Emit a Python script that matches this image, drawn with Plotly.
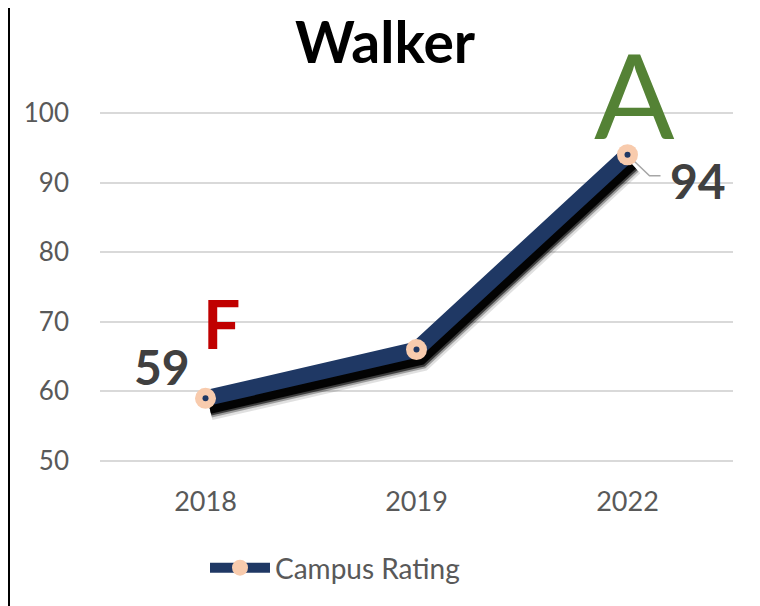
import plotly.graph_objects as go

years = ["2018", "2019", "2022"]
ratings = [59, 66, 94]
grade_first = "F"
grade_last = "A"
series_name = "Campus Rating"
title_text = "Walker"

OFF = 8  # page body margin
W, H = 760 - OFF, 606 - OFF

# desired screen geometry
x_left, x_right = 100, 733
y_top_val, y_bot_val = 113, 461  # screen y of 100 and 50

xr = [-0.5, len(years) - 0.5]
ypad = 0.15
yr = [50 - ypad, 100 + ypad]
px_per_y = (y_bot_val - y_top_val) / 50
L = x_left - OFF
R = W - (x_right - OFF)
T = round(y_top_val - OFF - ypad * px_per_y)
B = round(H - (y_bot_val - OFF + ypad * px_per_y))
pw, ph = W - L - R, H - T - B
px_per_x = pw / (xr[1] - xr[0])

xs = list(range(len(years)))
navy = "#1f3864"
peach = "#f8cbad"
font = "Lato"

fig = go.Figure()

# base axes: invisible carrier for ticks and grid
fig.add_trace(go.Scatter(x=xs, y=ratings, mode="lines", opacity=0, showlegend=False,
                         hoverinfo="skip"))

# soft shadow on offset overlay axes
sdx, sdy = 4, 9
for wdt, op in [(26, 0.12), (21, 0.3), (17, 0.6), (13, 0.95)]:
    fig.add_trace(go.Scatter(x=xs, y=ratings, mode="lines", xaxis="x2", yaxis="y2",
                             line=dict(color=f"rgba(0,0,0,{op})", width=wdt),
                             showlegend=False, hoverinfo="skip"))

# main series on top overlay axes
fig.add_trace(go.Scatter(
    x=xs, y=ratings, mode="lines+markers", name=series_name, xaxis="x3", yaxis="y3",
    line=dict(color=navy, width=16),
    marker=dict(size=21, color=peach, line=dict(width=0)),
))
fig.add_trace(go.Scatter(
    x=xs, y=ratings, mode="markers", showlegend=False, hoverinfo="skip",
    xaxis="x3", yaxis="y3", marker=dict(size=6, color=navy),
))

axis_common = dict(showgrid=False, zeroline=False, showticklabels=False, fixedrange=True)
fig.update_layout(
    xaxis2=dict(overlaying="x", range=[xr[0] - sdx / px_per_x, xr[1] - sdx / px_per_x], **axis_common),
    yaxis2=dict(overlaying="y", range=[yr[0] + sdy / px_per_y, yr[1] + sdy / px_per_y], **axis_common),
    xaxis3=dict(overlaying="x", range=xr, **axis_common),
    yaxis3=dict(overlaying="y", range=yr, **axis_common),
)

fig.update_layout(
    width=W, height=H,
    margin=dict(l=L, r=R, t=T, b=B),
    paper_bgcolor="white", plot_bgcolor="white",
    title=dict(text=f"<b>{title_text}</b>", x=(385 - OFF) / W, xanchor="center",
               y=1 - (43 - OFF) / H, yanchor="middle",
               font=dict(family=font, size=57, color="black")),
    xaxis=dict(range=xr, tickvals=xs, ticktext=years, showgrid=False, zeroline=False,
               showline=False, ticks="", ticklabelstandoff=21, fixedrange=True,
               tickfont=dict(family=font, size=27, color="#595959")),
    yaxis=dict(range=yr, tickvals=[50, 60, 70, 80, 90, 100], showgrid=True,
               gridcolor="#d9d9d9", gridwidth=1.5, fixedrange=True,
               zeroline=False, showline=False, ticks="", ticklabelstandoff=30,
               tickfont=dict(family=font, size=26, color="#595959")),
    legend=dict(orientation="h", x=(335 - x_left) / pw, xanchor="center",
                y=-(567 - y_bot_val) / ph, yanchor="middle",
                font=dict(family=font, size=28, color="#595959"), itemwidth=60),
    showlegend=True,
)

# data labels
fig.add_annotation(x=xs[0], y=ratings[0], text=f"<b>{ratings[0]}</b>", showarrow=False,
                   xshift=-44, yshift=32, font=dict(family=font, size=48, color="#404040"))
fig.add_annotation(x=xs[-1], y=ratings[-1], text=f"<b>{ratings[-1]}</b>", showarrow=False,
                   xshift=70, yshift=-26, font=dict(family=font, size=48, color="#404040"))
# grade letters
fig.add_annotation(x=xs[0], y=ratings[0], text=f"<b>{grade_first}</b>", showarrow=False,
                   xshift=16, yshift=75, font=dict(family=font, size=66, color="#c00000"))
fig.add_annotation(x=xs[-1], y=ratings[-1], text=grade_last, showarrow=False,
                   xshift=7, yshift=62, font=dict(family=font, size=119, color="#548235"))

# leader line for last label
fig.add_shape(type="path", xref="x", yref="y", xsizemode="pixel", ysizemode="pixel",
              xanchor=xs[-1], yanchor=ratings[-1], path="M 0,0 L 22,-21 L 33,-21",
              line=dict(color="#a6a6a6", width=1.5), layer="below")

# left border
fig.add_shape(type="line", xref="paper", yref="paper",
              x0=-(L - 1) / pw, x1=-(L - 1) / pw, y0=-B / ph, y1=1 + T / ph,
              line=dict(color="black", width=2))

fig.write_html("out.html")
